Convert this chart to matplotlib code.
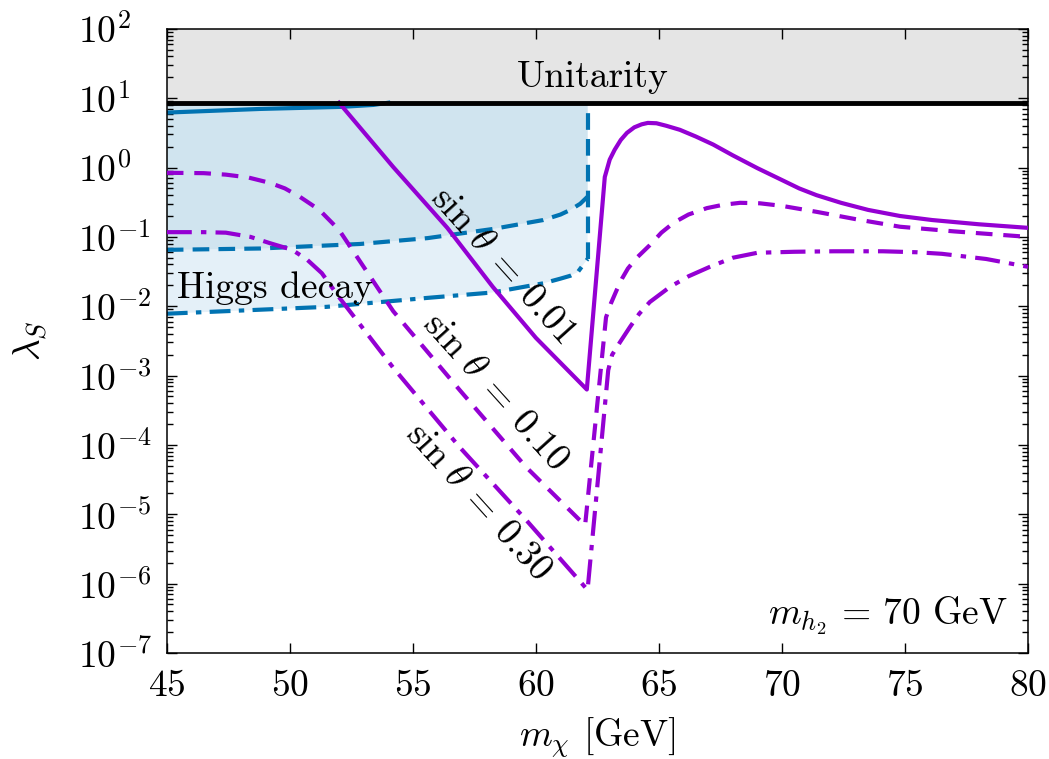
import matplotlib
matplotlib.use('Agg')
from matplotlib import pyplot as plt
from matplotlib.ticker import LogLocator, NullFormatter

plt.rcParams['font.family'] = 'serif'
plt.rcParams['font.serif'] = ['cmr10']
plt.rcParams['mathtext.fontset'] = 'cm'
plt.rcParams['axes.formatter.use_mathtext'] = True
plt.rcParams['font.size'] = 27

purple = '#9400d3'
blue = '#0173b2'

# limits of the two special lines
lam_unit = 8.6      # unitarity bound
m_thr = 62.1        # m_h / 2 threshold

# sin(theta) = 0.01 (solid)
x1 = [52.0, 54.2, 56.4, 58.25, 60.0, 62.07, 62.8, 63.0, 63.2, 63.45, 63.7, 64.0, 64.3, 64.55, 64.9, 65.3,
      65.85, 66.5, 67.2, 68.0, 69.0, 70.0, 70.7, 71.4, 72.4, 73.5, 74.8, 76.1, 78.0, 80.0]
y1 = [8.6, 1.02, 0.135, 0.019, 3.5e-3, 6.3e-4, 0.73, 1.3, 1.8, 2.5, 3.16, 3.8, 4.2, 4.4, 4.35, 4.0,
      3.5, 2.8, 2.15, 1.5, 0.98, 0.66, 0.5, 0.40, 0.31, 0.245, 0.2, 0.175, 0.152, 0.135]

# sin(theta) = 0.10 (dashed)
x2 = [45, 46.5, 47.4, 48.3, 49.2, 49.8, 50.4, 51.2, 52.0, 54.2, 56.9, 59.6, 62.0, 62.85, 63.05, 63.28,
      63.5, 63.74, 64.1, 64.63, 65.1, 65.6, 66.2, 66.95, 67.6, 68.3, 69.1, 70.0, 71.4, 73.0, 74.8, 77.0, 80]
y2 = [0.84, 0.83, 0.79, 0.72, 0.60, 0.5, 0.38, 0.245, 0.126, 8.5e-3, 6.2e-4, 4.8e-5, 6.9e-6, 6.9e-3, 0.011,
      0.017, 0.025, 0.035, 0.05, 0.076, 0.115, 0.16, 0.21, 0.26, 0.29, 0.31, 0.305, 0.28, 0.23, 0.18, 0.14,
      0.12, 0.10]

# sin(theta) = 0.30 (dash-dot)
x3 = [45, 46.5, 47.4, 48.4, 49.2, 50.1, 50.7, 51.3, 52.0, 54.2, 56.9, 59.6, 62.1, 62.94, 63.1, 63.41,
      63.82, 64.2, 64.63, 65.45, 66.2, 67.07, 68.0, 69.0, 70.5, 72.1, 74.1, 75.5, 76.5, 78.3, 80]
y3 = [0.117, 0.117, 0.115, 0.1, 0.081, 0.065, 0.047, 0.03, 0.0135, 1.3e-3, 9.3e-5, 8.3e-6, 8.1e-7, 1.2e-3,
      2.0e-3, 3.0e-3, 5.0e-3, 7.8e-3, 0.0115, 0.019, 0.027, 0.037, 0.05, 0.059, 0.061, 0.062, 0.062, 0.06,
      0.057, 0.048, 0.037]

# Higgs decay bounds
hx1 = [45, 48.8, 52.1, 53.4, 54.0]
hy1 = [6.2, 7.0, 7.5, 8.0, 8.6]
hx2 = [45, 48.8, 52.85, 55.6, 58.25, 60.3, 61.0, 61.4, 61.8, 62.1]
hy2 = [0.065, 0.068, 0.079, 0.096, 0.13, 0.175, 0.21, 0.245, 0.3, 0.38]
hx3 = [45, 51.5, 55.6, 58.25, 60.3, 61.0, 61.4, 61.7, 62.1]
hy3 = [7.8e-3, 9.8e-3, 0.0132, 0.0158, 0.0214, 0.025, 0.0275, 0.031, 0.048]

fig = plt.figure(figsize=(10.49, 7.59), dpi=100)
ax = fig.add_axes([0.159, 0.1397, 0.821, 0.8223])

ax.axhspan(lam_unit, 100, color='#e5e5e5', lw=0, zorder=0)
ax.fill(hx3 + [m_thr, 45], hy3 + [lam_unit, lam_unit], color='#e4f0f8', lw=0, zorder=0.5)
ax.fill(hx2 + [m_thr, 45], hy2 + [lam_unit, lam_unit], color='#d0e4ef', lw=0, zorder=0.6)

ax.plot(hx1, hy1, color=blue, lw=3, zorder=2)
ax.plot(hx2, hy2, color=blue, lw=3, dashes=(4, 2.2), zorder=2)
ax.plot(hx3, hy3, color=blue, lw=3, dashes=(5, 2, 1.3, 2), zorder=2)
ax.vlines(m_thr, hy3[-1], lam_unit, color=blue, lw=3, linestyles=(0, (4, 2.2)), zorder=2)

ax.plot(x1, y1, color=purple, lw=3, zorder=3)
ax.plot(x2, y2, color=purple, lw=3, dashes=(4, 2.6), zorder=3)
ax.plot(x3, y3, color=purple, lw=3, dashes=(6, 2.2, 1.3, 2.2), zorder=3)

ax.axhline(lam_unit, color='k', lw=3.5, zorder=4)

ax.text(62.3, 20, 'Unitarity', ha='center', va='center')
ax.text(45.4, 0.018, 'Higgs decay', ha='left', va='center')
ax.text(58.66, 0.039, r'$\sin\,\theta\:=\:0.01$', rotation=-48, ha='center', va='center', rotation_mode='anchor')
ax.text(58.33, 5.8e-4, r'$\sin\,\theta\:=\:0.10$', rotation=-48, ha='center', va='center', rotation_mode='anchor')
ax.text(57.64, 1.5e-5, r'$\sin\,\theta\:=\:0.30$', rotation=-48, ha='center', va='center', rotation_mode='anchor')
ax.text(79.2, 3.5e-7, r'$m_{h_2}\,=\,70$ GeV', ha='right', va='center')

ax.set_yscale('log')
ax.set_xlim(45, 80)
ax.set_ylim(1e-7, 1e2)
ax.set_xticks([45, 50, 55, 60, 65, 70, 75, 80])
ax.yaxis.set_major_locator(LogLocator(base=10, numticks=20))
ax.yaxis.set_minor_locator(LogLocator(base=10, subs=range(2, 10), numticks=20))
ax.yaxis.set_minor_formatter(NullFormatter())

ax.tick_params(which='both', direction='in', top=True, right=True, width=1)
ax.tick_params(which='major', length=7)
ax.tick_params(which='minor', length=4)
ax.tick_params(axis='x', pad=12)
ax.tick_params(axis='y', pad=64)
for lab in ax.get_yticklabels():
    lab.set_horizontalalignment('left')
for s in ax.spines.values():
    s.set_linewidth(1.1)

ax.set_xlabel(r'$m_\chi$ [GeV]')
ax.set_ylabel(r'$\lambda_S$')
ax.xaxis.set_label_coords(0.5, -0.1)
ax.yaxis.set_label_coords(-0.136, 0.5)

fig.savefig('out.png', dpi=100)
